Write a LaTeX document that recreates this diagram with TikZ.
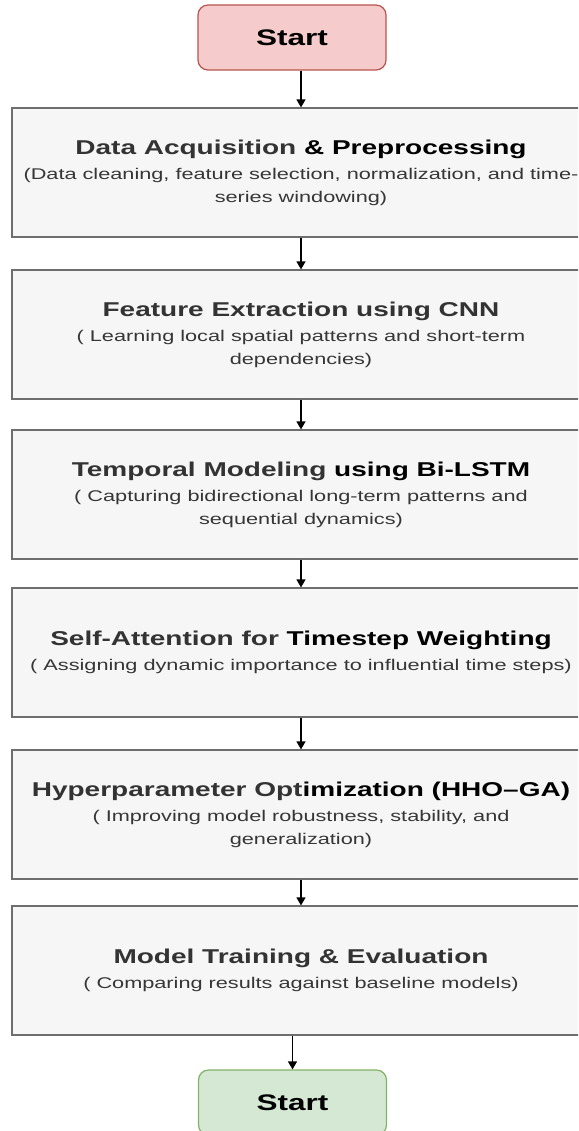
\documentclass[tikz,border=0pt]{standalone}
\usepackage{fontspec}
\setmainfont{Liberation Sans}[FakeStretch=1.4]
\usetikzlibrary{arrows.meta}
\definecolor{boxfill}{HTML}{F5F6F5}
\definecolor{boxline}{HTML}{6E6E6E}
\definecolor{startfill}{HTML}{F5CCCB}
\definecolor{startline}{HTML}{B85450}
\definecolor{endfill}{HTML}{D5E8D4}
\definecolor{endline}{HTML}{82B366}
\definecolor{ttl}{HTML}{333333}
\definecolor{sub}{HTML}{363636}
\newcommand{\ttlA}[1]{{\fontsize{20}{22}\selectfont\bfseries #1}}
\newcommand{\subA}[1]{{\color{sub}#1}}
\begin{document}
\begin{tikzpicture}[x=1pt,y=-1pt,
  stage/.style={draw=boxline, line width=1.2pt, fill=boxfill, minimum width=578pt, minimum height=129pt, align=center, inner sep=0pt, text=black, font=\fontsize{15.5}{22.5}\selectfont},
  terminal/.style={rounded corners=10pt, line width=1.2pt, minimum width=188pt, minimum height=65pt, inner sep=0pt, font=\fontsize{22.5}{24}\selectfont\bfseries},
  flow/.style={line width=1.3pt, -{Triangle[width=9pt,length=8pt]}}]
\clip (0,0) rectangle (578,1131);
\fill[white] (0,0) rectangle (578,1131);
\node[terminal, draw=startline, fill=startfill] (start) at (292,37.5) {Start};
\node[stage] (b1) at (301,172.5) {\ttlA{\color{ttl}Data Acquisition \color{black}\& Preprocessing}\\[3pt]\subA{(Data cleaning, feature selection, normalization, and time-}\\\subA{series windowing)}};
\node[stage] (b2) at (301,334.5) {\ttlA{\color{ttl}Feature Extraction using CNN}\\[3pt]\subA{( Learning local spatial patterns and short-term}\\\subA{dependencies)}};
\node[stage] (b3) at (301,494.5) {\ttlA{\color{ttl}Temporal Modeling \color{black}using Bi-LSTM}\\[3pt]\subA{( Capturing bidirectional long-term patterns and}\\\subA{sequential dynamics)}};
\node[stage] (b4) at (301,652.5) {\ttlA{\color{ttl}Self-Attention for \color{black}Timestep Weighting}\\[3pt]\subA{( Assigning dynamic importance to influential time steps)}};
\node[stage] (b5) at (301,814.5) {\ttlA{\color{ttl}Hyperparameter Opt\color{black}imization (HHO--GA)}\\[3pt]\subA{( Improving model robustness, stability, and}\\\subA{generalization)}};
\node[stage] (b6) at (301,970.5) {\ttlA{\color{ttl}Model Training \& Evaluation}\\[3pt]\subA{( Comparing results against baseline models)}};
\node[terminal, draw=endline, fill=endfill] (end) at (292.5,1102.5) {Start};
\draw[flow] (b1.north |- start.south) -- (b1.north);
\draw[flow] (b1) -- (b2);
\draw[flow] (b2) -- (b3);
\draw[flow] (b3) -- (b4);
\draw[flow] (b4) -- (b5);
\draw[flow] (b5) -- (b6);
\draw[flow] (end.north |- b6.south) -- (end.north);
\end{tikzpicture}
\end{document}
